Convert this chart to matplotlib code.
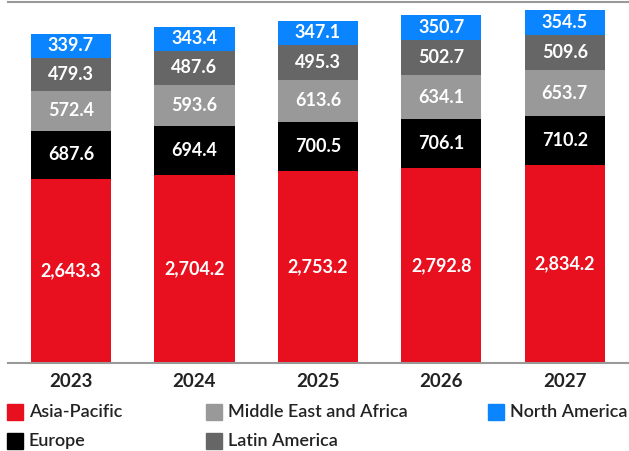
import matplotlib.pyplot as plt
import matplotlib.patches as mpatches
import numpy as np

years = ["2023", "2024", "2025", "2026", "2027"]
regions = ["Asia-Pacific", "Europe", "Middle East and Africa", "Latin America", "North America"]
asia_pacific = [2643.3, 2704.2, 2753.2, 2792.8, 2834.2]
europe = [687.6, 694.4, 700.5, 706.1, 710.2]
mea = [572.4, 593.6, 613.6, 634.1, 653.7]
latin_america = [479.3, 487.6, 495.3, 502.7, 509.6]
north_america = [339.7, 343.4, 347.1, 350.7, 354.5]

colors = ["#e8101e", "#000000", "#999999", "#666666", "#0a84ff"]
series = [asia_pacific, europe, mea, latin_america, north_america]

plt.rcParams['font.family'] = ['Lato', 'DejaVu Sans']

fig = plt.figure(figsize=(6.29, 4.51), dpi=100)
ax = fig.add_axes([8 / 629, 88 / 451, 621 / 629, 361 / 451])

x = np.arange(len(years))
bottom = np.zeros(len(years))
for vals, col in zip(series, colors):
    ax.bar(x, vals, bottom=bottom, width=0.65, color=col, linewidth=0)
    for xi, b, v in zip(x, bottom, vals):
        ax.text(xi, b + v / 2, f"{v:,.1f}", ha="center", va="center",
                color="white", fontsize=13, fontweight="bold")
    bottom += np.array(vals)

ax.set_xlim(-0.51, 4.52)
ax.set_ylim(0, 5180)
ax.set_yticks([])
ax.set_xticks(x)
ax.set_xticklabels(years, fontsize=13.5, fontweight="bold", color="#222222")
ax.tick_params(axis="x", length=0, pad=7)
for s in ["left", "right"]:
    ax.spines[s].set_visible(False)
ax.spines["bottom"].set_color("#999999")
ax.spines["bottom"].set_linewidth(1.5)
ax.spines["top"].set_color("#999999")
ax.spines["top"].set_linewidth(1.5)

# legend drawn by hand to match column spacing
legend_pos = [(7, 412), (7, 441), (206, 412), (206, 441), (488, 412)]
for (px, py), name, col in zip(legend_pos, regions, colors):
    fig.patches.append(mpatches.Rectangle((px / 629, 1 - (py + 8) / 451), 16 / 629, 16 / 451,
                                          transform=fig.transFigure, color=col))
    fig.text((px + 22) / 629, 1 - py / 451, name, fontsize=13, va="center", ha="left",
             color="#222222", fontweight="semibold")

fig.savefig("out.png", dpi=100)
